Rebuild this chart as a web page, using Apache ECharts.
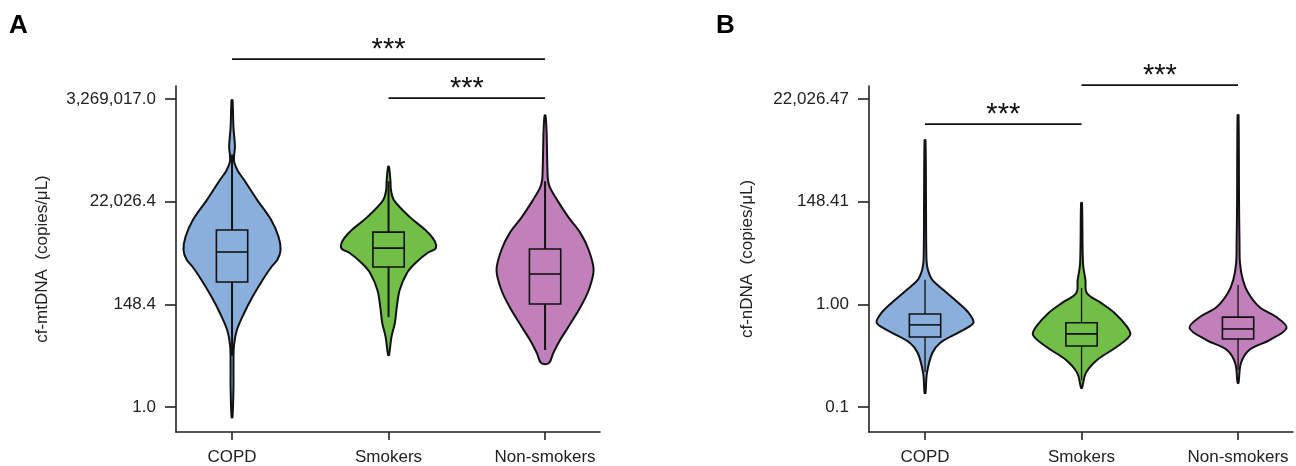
<!DOCTYPE html>
<html>
<head>
<meta charset="utf-8">
<script src="https://cdn.jsdelivr.net/npm/echarts@6/dist/echarts.min.js"></script>
<style>
  html, body { margin: 0; padding: 0; background: #fff; }
  #chart { width: 1296px; height: 466px; }
</style>
</head>
<body>
<div id="chart"></div>
<script>
// categories and tick labels (y values are natural logs)
const categories = ['COPD', 'Smokers', 'Non-smokers'];
const yTicksA = [0, 5, 10, 15];
const yLabelsA = ['1.0', '148.4', '22,026.4', '3,269,017.0'];
const yTicksB = [-5, 0, 5, 10];
const yLabelsB = ['0.1', '1.00', '148.41', '22,026.47'];

// violin profiles: [ln value, relative density]
const copdA = [[14.95, 0.01], [13.6, 0.03], [12.7, 0.06], [12.0, 0.04], [11.5, 0.12], [11.06, 0.25], [10.08, 0.52], [9.1, 0.81], [8.28, 0.96], [7.65, 1.0], [7.2, 0.94], [6.82, 0.81], [6.19, 0.63], [5.36, 0.42], [4.58, 0.25], [3.75, 0.1], [3.0, 0.04], [2.0, 0.03], [1.0, 0.03], [-0.5, 0.01]];
const smokersA = [[11.7, 0.01], [11.0, 0.04], [10.57, 0.05], [10.08, 0.11], [9.25, 0.44], [8.62, 0.76], [8.2, 0.92], [7.9, 0.98], [7.7, 0.96], [7.5, 0.8], [7.0, 0.55], [6.53, 0.38], [5.7, 0.23], [4.87, 0.17], [4.09, 0.13], [3.41, 0.06], [2.53, 0.01]];
const nonSmokersA = [[14.2, 0.01], [13.5, 0.03], [12.5, 0.04], [11.5, 0.05], [11.06, 0.06], [10.7, 0.1], [10.08, 0.25], [9.25, 0.48], [8.47, 0.73], [7.65, 0.9], [6.67, 1.0], [5.7, 0.9], [4.87, 0.73], [3.9, 0.48], [3.26, 0.31], [2.63, 0.17], [2.14, 0.08]];
const copdB = [[8.0, 0.01], [5.0, 0.02], [2.16, 0.03], [1.67, 0.06], [1.19, 0.15], [0.7, 0.38], [0.07, 0.69], [-0.42, 0.9], [-0.86, 1.0], [-1.1, 0.9], [-1.4, 0.67], [-1.88, 0.31], [-2.37, 0.15], [-3.34, 0.04], [-4.32, 0.01]];
const smokersB = [[4.94, 0.01], [2.0, 0.03], [1.19, 0.08], [0.55, 0.11], [0.07, 0.4], [-0.42, 0.68], [-1.1, 0.94], [-1.5, 1.0], [-2.08, 0.72], [-2.71, 0.32], [-3.34, 0.09], [-4.07, 0.01]];
const nonSmokersB = [[9.22, 0.01], [5.0, 0.02], [2.99, 0.03], [2.0, 0.04], [1.19, 0.1], [0.55, 0.21], [-0.13, 0.44], [-0.62, 0.79], [-1.15, 1.0], [-1.74, 0.65], [-2.22, 0.23], [-2.86, 0.06], [-3.83, 0.01]];

// box stats: [whisker low, Q1, median, Q3, whisker high]
const boxA = [[2.5, 6.09, 7.55, 8.62, 12.3], [4.38, 6.82, 7.74, 8.52, 11.0], [2.78, 5.02, 6.48, 7.7, 11.0]];
const boxB = [[-3.3, -1.59, -1.0, -0.47, 1.2], [-3.7, -2.03, -1.44, -0.9, 0.8], [-3.2, -1.69, -1.2, -0.62, 0.94]];

// significance brackets: [from, to, ln height]
const bracketsA = [[1, 3, 16.95], [2, 3, 15.05]];
const bracketsB = [[1, 2, 8.78], [2, 3, 10.68]];

const colors = ['#8AAFDC', '#71BF46', '#C180BA'];
const VW = 0.31;   // max half width of a violin
const BW = 0.1;    // half width of a box
const ink = '#111';
const font = '"Liberation Sans", Arial, sans-serif';

function violinSeries(idx, densities, boxes, whiskerW) {
  return {
    type: 'custom',
    xAxisIndex: idx,
    yAxisIndex: idx,
    clip: false,
    data: boxes.map((b, i) => [i + 1, b[2]]),
    renderItem: function (params, api) {
      const i = params.dataIndex;
      const x = api.value(0);
      const dens = densities[i];
      const b = boxes[i];
      const right = dens.map(p => api.coord([x + p[1] * VW, p[0]]));
      const left = dens.slice().reverse().map(p => api.coord([x - p[1] * VW, p[0]]));
      const lo = api.coord([x, b[0]]), hi = api.coord([x, b[4]]);
      const q1 = api.coord([x - BW, b[1]]), q3 = api.coord([x + BW, b[3]]);
      const m1 = api.coord([x - BW, b[2]]), m2 = api.coord([x + BW, b[2]]);
      return {
        type: 'group',
        children: [
          { type: 'polygon', shape: { points: right.concat(left), smooth: 0.35 },
            style: { fill: colors[i], stroke: ink, lineWidth: 2 } },
          { type: 'line', shape: { x1: lo[0], y1: lo[1], x2: hi[0], y2: hi[1] },
            style: { stroke: ink, lineWidth: whiskerW } },
          { type: 'rect', shape: { x: q1[0], y: q3[1], width: q3[0] - q1[0], height: q1[1] - q3[1] },
            style: { fill: colors[i], stroke: ink, lineWidth: 1.6 } },
          { type: 'line', shape: { x1: m1[0], y1: m1[1], x2: m2[0], y2: m2[1] },
            style: { stroke: ink, lineWidth: 1.6 } }
        ]
      };
    }
  };
}

function bracketSeries(idx, brackets) {
  return {
    type: 'custom',
    xAxisIndex: idx,
    yAxisIndex: idx,
    clip: false,
    silent: true,
    data: brackets,
    renderItem: function (params, api) {
      const a = api.coord([api.value(0), api.value(2)]);
      const c = api.coord([api.value(1), api.value(2)]);
      return {
        type: 'group',
        children: [
          { type: 'line', shape: { x1: a[0], y1: a[1], x2: c[0], y2: c[1] },
            style: { stroke: ink, lineWidth: 1.8 } },
          { type: 'text', x: (a[0] + c[0]) / 2, y: a[1] - 9,
            style: { text: '***', fill: ink, font: '29px ' + font,
                     align: 'center', verticalAlign: 'middle' } }
        ]
      };
    }
  };
}

function xAxisOpt(idx) {
  return {
    type: 'value', gridIndex: idx, min: 0.642, max: 3.351,
    splitLine: { show: false },
    axisLine: { onZero: false, lineStyle: { color: '#222', width: 1.6 } },
    axisTick: { customValues: [1, 2, 3], length: 8, lineStyle: { color: '#222', width: 1.6 } },
    axisLabel: { customValues: [1, 2, 3], margin: 17, color: '#222', fontSize: 17,
      fontFamily: font,
      formatter: v => categories[Math.round(v) - 1] }
  };
}

function yAxisOpt(idx, min, max, ticks, labels, name, gap) {
  return {
    type: 'value', gridIndex: idx, min: min, max: max,
    name: name, nameLocation: 'middle', nameGap: gap,
    nameTextStyle: { color: '#222', fontSize: 17, fontFamily: font },
    splitLine: { show: false },
    axisLine: { show: true, onZero: false, lineStyle: { color: '#222', width: 1.6 } },
    axisTick: { show: true, customValues: ticks, length: 11, lineStyle: { color: '#222', width: 1.6 } },
    axisLabel: { customValues: ticks, margin: 20, color: '#222', fontSize: 17,
      fontFamily: font,
      formatter: v => labels[ticks.indexOf(Math.round(v))] }
  };
}

const chart = echarts.init(document.getElementById('chart'), null, { renderer: 'canvas' });
chart.setOption({
  animation: false,
  backgroundColor: '#fff',
  grid: [
    { left: 176, right: 696, top: 86, bottom: 34 },
    { left: 869, right: 3, top: 86, bottom: 34 }
  ],
  xAxis: [xAxisOpt(0), xAxisOpt(1)],
  yAxis: [
    yAxisOpt(0, -1.22, 15.64, yTicksA, yLabelsA, 'cf-mtDNA  (copies/μL)', 125),
    yAxisOpt(1, -6.22, 10.64, yTicksB, yLabelsB, 'cf-nDNA  (copies/μL)', 113)
  ],
  graphic: [
    { type: 'text', left: 9, top: 13, style: { text: 'A', fill: '#000', font: 'bold 26px ' + font } },
    { type: 'text', left: 716, top: 13, style: { text: 'B', fill: '#000', font: 'bold 26px ' + font } }
  ],
  series: [
    violinSeries(0, [copdA, smokersA, nonSmokersA], boxA, 2),
    violinSeries(1, [copdB, smokersB, nonSmokersB], boxB, 1.3),
    bracketSeries(0, bracketsA),
    bracketSeries(1, bracketsB)
  ]
});
</script>
</body>
</html>
